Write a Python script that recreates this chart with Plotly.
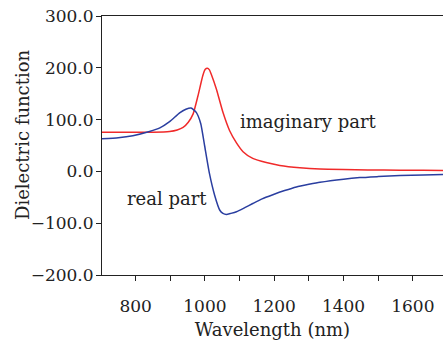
import plotly.graph_objects as go

# Data
wl_imag = [703, 750, 800, 850, 898, 920, 937, 952, 966, 980, 994, 1001, 1007, 1013, 1018, 1033, 1052, 1071, 1091, 1110, 1138, 1177, 1216, 1274, 1332, 1400, 1470, 1563, 1630, 1687]
imag = [75.5, 75.5, 75.5, 75.5, 77, 80, 85, 95, 111, 146, 185, 197, 199, 196, 188, 159, 114, 79, 55, 38, 25, 17, 11.5, 7, 4.5, 3.5, 2.8, 2.2, 2, 1.8]

wl_real = [703, 750, 792, 840, 870, 898, 927, 945, 960, 975, 988, 999, 1013, 1028, 1043, 1052, 1062, 1075, 1091, 1115, 1138, 1165, 1196, 1230, 1264, 1300, 1332, 1400, 1447, 1500, 1563, 1630, 1687]
real = [63, 65, 69, 77, 84, 96, 113, 120, 122.5, 114, 92, 50, -4, -46, -75, -81, -83, -81, -78, -70, -62, -53, -45, -37, -30, -25, -21, -15, -12, -10, -8, -7, -6]

x_tickvals = [800, 900, 1000, 1100, 1200, 1300, 1400, 1500, 1600]
x_ticktext = ["800", "", "1000", "", "1200", "", "1400", "", "1600"]
y_tickvals = [-200, -100, 0, 100, 200, 300]

FONT = "DejaVu Serif"
INK = "#222222"

fig = go.Figure()
fig.add_trace(go.Scatter(x=wl_imag, y=imag, mode="lines", line=dict(color="#f02a2a", width=1.5, shape="spline", smoothing=0.5), name="imaginary part"))
fig.add_trace(go.Scatter(x=wl_real, y=real, mode="lines", line=dict(color="#2a3ea0", width=1.5, shape="spline", smoothing=0.5), name="real part"))

fig.update_layout(
    width=443, height=340,
    margin=dict(l=102, r=0, t=16, b=65),
    plot_bgcolor="white", paper_bgcolor="white",
    showlegend=False,
    font=dict(family=FONT, color=INK, size=17),
    xaxis=dict(
        range=[703, 1687], tickvals=x_tickvals, ticktext=x_ticktext,
        showline=True, linecolor=INK, linewidth=1, mirror=True,
        ticks="outside", ticklen=5, tickcolor=INK, showgrid=False, zeroline=False,
        tickfont=dict(family=FONT, size=17), ticklabelstandoff=11, automargin=False,
        title=dict(text="Wavelength (nm)", font=dict(family=FONT, size=18), standoff=13),
    ),
    yaxis=dict(
        range=[-200, 300], tickvals=y_tickvals, tickformat=".1f",
        showline=True, linecolor=INK, linewidth=1,
        ticks="outside", ticklen=5, tickcolor=INK, showgrid=False, zeroline=False,
        tickfont=dict(family=FONT, size=17), ticklabelstandoff=-1, automargin=False,
    ),
    annotations=[
        dict(x=-0.2346, y=0.5405, xref="paper", yref="paper", text="Dielectric function", textangle=-90, showarrow=False, xanchor="center", yanchor="middle", font=dict(family=FONT, size=18, color=INK)),
        dict(x=1095, y=97, xref="x", yref="y", text="imaginary part", showarrow=False, xanchor="left", yanchor="middle", font=dict(family=FONT, size=18, color=INK)),
        dict(x=768, y=-52, xref="x", yref="y", text="real part", showarrow=False, xanchor="left", yanchor="middle", font=dict(family=FONT, size=18, color=INK)),
    ],
)

fig.write_html("out.html")
